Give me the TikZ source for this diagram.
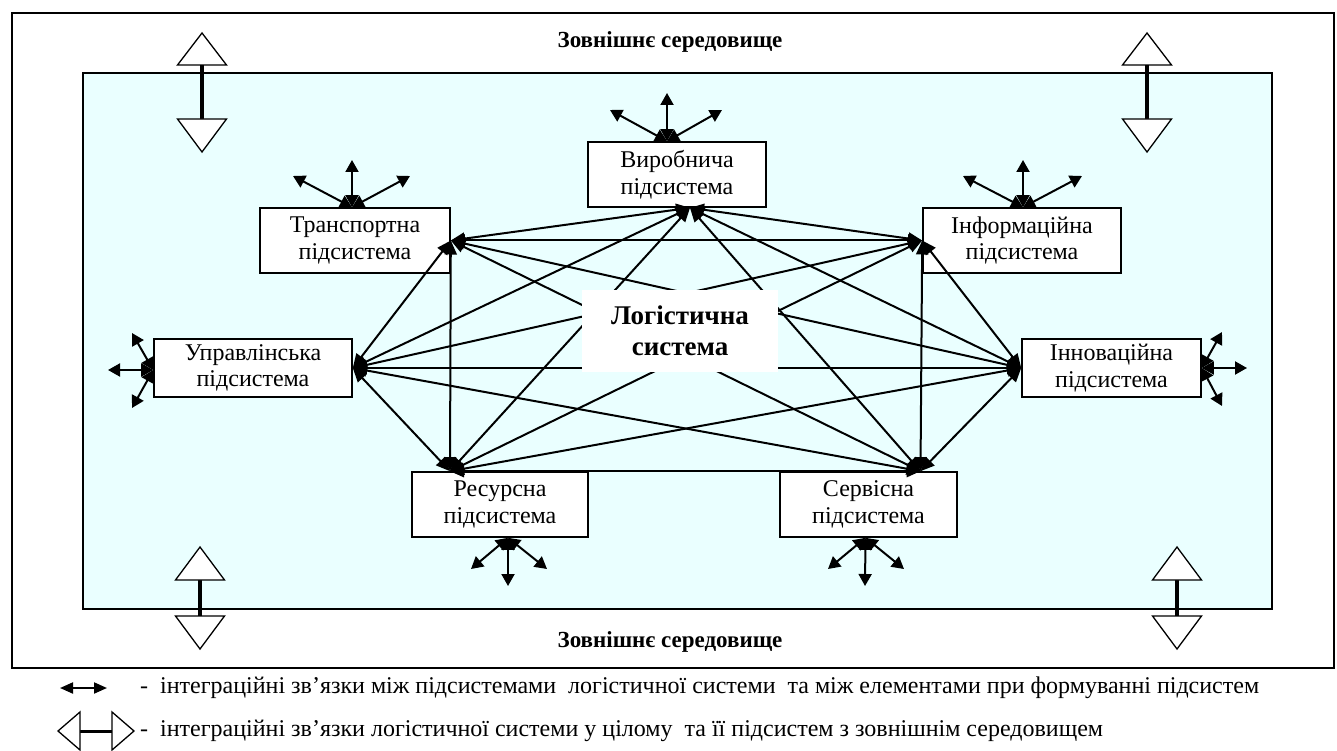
\documentclass[tikz,border=0pt]{standalone}
\usepackage{fontspec}
\setmainfont{Liberation Serif}
\usetikzlibrary{arrows.meta}
\definecolor{envfill}{RGB}{234,255,255}

\begin{document}
\begin{tikzpicture}[x=1pt,y=-1pt,
  sub/.style={draw, line width=1.6pt, fill=white, inner sep=0pt, align=center,
    font=\fontsize{24}{26.5}\selectfont},
  link/.style={line width=2pt,
    {Triangle[length=14pt,width=12pt]}-{Triangle[length=14pt,width=12pt]}},
  tie/.style={line width=2pt,
    {Triangle[length=12pt,width=13pt]}-{Triangle[length=12pt,width=13pt]}},
  hollowtri/.style={draw, line width=1.3pt, fill=white, line join=miter},
  stem/.style={line width=4pt},
  envtext/.style={font=\bfseries\fontsize{23}{26}\selectfont},
  legendtext/.style={anchor=west, inner sep=0pt, font=\fontsize{24}{27}\selectfont}]

\useasboundingbox (0,0) rectangle (1337,751);

% outer frame and the system area
\draw[line width=1.8pt] (12,13) rectangle (1334,668);
\draw[line width=1.8pt, fill=envfill] (83,73) rectangle (1272,609);

\node[envtext] (envtop) at (670,42) {Зовнішнє середовище};
\node[envtext] (envbot) at (670,642) {Зовнішнє середовище};

% subsystems
\node[sub, minimum width=178pt, minimum height=65pt] (V) at (677,174.5) {Виробнича\\підсистема};
\node[sub, minimum width=190pt, minimum height=65pt] (T) at (355,240.5) {Транспортна\\підсистема};
\node[sub, minimum width=198pt, minimum height=65pt] (I) at (1022,240.5) {Інформаційна\\підсистема};
\node[sub, minimum width=198pt, minimum height=58pt] (U) at (253,368) {Управлінська\\підсистема};
\node[sub, minimum width=179pt, minimum height=58pt] (N) at (1111.5,368) {Інноваційна\\підсистема};
\node[sub, minimum width=176pt, minimum height=65pt] (R) at (500,504.5) {Ресурсна\\підсистема};
\node[sub, minimum width=177pt, minimum height=65pt] (S) at (868.5,504.5) {Сервісна\\підсистема};

% meeting points of the links on each subsystem
\coordinate (pV) at ([xshift=13pt]V.south);
\coordinate (pT) at (T.east);
\coordinate (pI) at (I.west);
\coordinate (pU) at (U.east);
\coordinate (pN) at (N.west);
\coordinate (pR) at ([xshift=-50pt]R.north);
\coordinate (pS) at ([xshift=52pt]S.north);

% links between all pairs of subsystems
\foreach \a/\b in {V/T,V/I,V/U,V/N,V/R,V/S,T/I,T/U,T/N,T/R,T/S,
                   I/U,I/N,I/R,I/S,U/N,U/R,U/S,N/R,N/S,R/S}
  \draw[link] (p\a) -- (p\b);

% central label
\node[fill=white, minimum width=196pt, minimum height=82pt, align=center,
      font=\bfseries\fontsize{27}{31}\selectfont] (L) at (680,331) {Логістична\\система};

% outward links of the subsystems
\coordinate (oV) at ([xshift=-10pt]V.north);
\coordinate (oT) at ([xshift=-3pt]T.north);
\coordinate (oI) at ([xshift=1pt]I.north);
\coordinate (oU) at ([yshift=-2pt]U.west);
\coordinate (oN) at (N.east);
\coordinate (oR) at ([xshift=8pt]R.south);
\coordinate (oS) at ([xshift=-3pt]S.south);

\coordinate (vV1) at (667,93);  \coordinate (vV2) at (610,110); \coordinate (vV3) at (722,110);
\coordinate (vT1) at (352,160); \coordinate (vT2) at (293,176); \coordinate (vT3) at (410,176);
\coordinate (vI1) at (1023,160); \coordinate (vI2) at (963,176); \coordinate (vI3) at (1082,176);
\coordinate (vU1) at (108,370); \coordinate (vU2) at (132,333); \coordinate (vU3) at (132,408);
\coordinate (vN1) at (1247,368); \coordinate (vN2) at (1222,332); \coordinate (vN3) at (1222,406);
\coordinate (vR1) at (508,586); \coordinate (vR2) at (471,569); \coordinate (vR3) at (547,569);
\coordinate (vS1) at (865,586); \coordinate (vS2) at (828,569); \coordinate (vS3) at (904,569);

\foreach \s in {V,T,I,U,N,R,S}
  \foreach \k in {1,2,3}
    \draw[tie] (o\s) -- (v\s\k);

% links with the environment
\foreach \n/\x/\ya/\yb/\yc/\yd in {tl/202/33/65/119/152, tr/1147/33/65/119/152,
                                   bl/200/547/580/616/649, br/1177/547/580/616/649}{
  \coordinate (e\n a) at (\x,\yb);
  \coordinate (e\n b) at (\x,\yc);
  \draw[stem] (e\n a) -- (e\n b);
  \draw[hollowtri] (\x,\ya) -- (\x+24.5,\yb) -- (\x-24.5,\yb) -- cycle;
  \draw[hollowtri] (\x,\yd) -- (\x+24.5,\yc) -- (\x-24.5,\yc) -- cycle;
}

% legend
\coordinate (la) at (60,688);
\coordinate (lb) at (107,688);
\draw[line width=2pt, {Triangle[length=13pt,width=11pt]}-{Triangle[length=13pt,width=11pt]}] (la) -- (lb);
\node[legendtext] (t1) at (140,688) {-\ \ інтеграційні зв’язки між підсистемами \ логістичної системи \ та між елементами при формуванні підсистем};

\coordinate (ma) at (80,731);
\coordinate (mb) at (112,731);
\draw[line width=3pt] (ma) -- (mb);
\draw[hollowtri] (58,731) -- (80,712) -- (80,750) -- cycle;
\draw[hollowtri] (134,731) -- (112,712) -- (112,750) -- cycle;
\node[legendtext] (t2) at (140,731) {-\ \ інтеграційні зв’язки логістичної системи у цілому \ та її підсистем з зовнішнім середовищем};
\end{tikzpicture}
\end{document}
